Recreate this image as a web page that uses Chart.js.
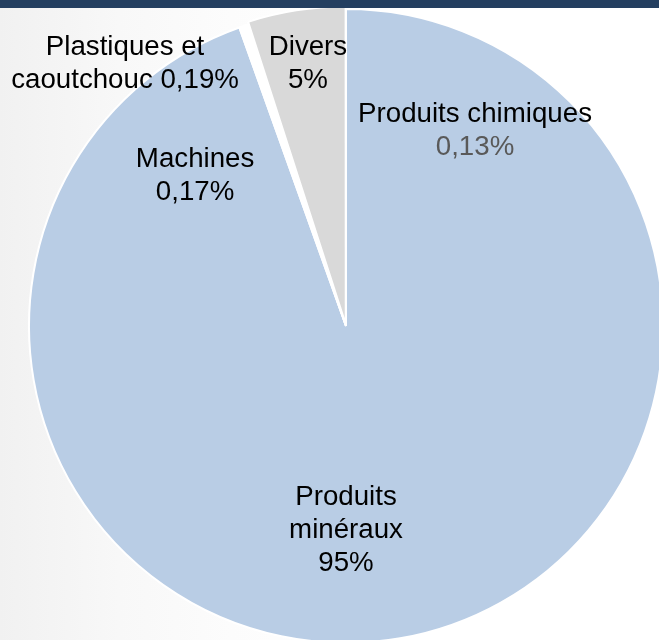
<!DOCTYPE html>
<html>
<head>
<meta charset="utf-8">
<script src="https://cdn.jsdelivr.net/npm/chart.js@4.4.0/dist/chart.umd.min.js"></script>
<style>
  html, body { margin: 0; padding: 0; width: 659px; height: 640px; overflow: hidden; }
  body { background: linear-gradient(to right, #f1f1f1 0%, #f8f8f8 18%, #fcfcfc 35%, #ffffff 55%, #ffffff 100%); position: relative; }
  #bar { position: absolute; left: 0; top: 0; width: 659px; height: 8px; background: #243f60; z-index: 2; }
  #wrap { position: absolute; left: 0; top: 0; width: 700px; height: 680px; }
</style>
</head>
<body>
<div id="bar"></div>
<div id="wrap"><canvas id="c" width="700" height="680"></canvas></div>
<script>
// ---- data ----
const categories = ['Produits minéraux', 'Produits chimiques', 'Machines', 'Plastiques et caoutchouc', 'Divers'];
const shares = [95, 0.13, 0.17, 0.19, 5];

// ---- style ----
const sliceColors = ['#b9cde5', '#ffffff', '#ffffff', '#ffffff', '#d9d9d9'];
const sliceOffsets = [0, 0, 0, 0, 6];
// label placement, relative to pie centre in units of the radius; line-break style
const labelLayout = [
  { dx: 0.0,   dy: 0.644,  mode: 'stack', valueColor: '#000000' },
  { dx: 0.407, dy: -0.614, mode: 'two',   valueColor: '#595959' },
  { dx: -0.476, dy: -0.473, mode: 'two',  valueColor: '#000000' },
  { dx: -0.697, dy: -0.826, mode: 'split', valueColor: '#000000' },
  { dx: -0.12, dy: -0.828, mode: 'two',   valueColor: '#000000' }
];

function fmt(v) { return String(v).replace('.', ',') + '%'; }

function buildLines(name, v, mode) {
  const val = fmt(v);
  const words = name.split(' ');
  if (mode === 'stack') return words.map(w => ({ t: w, val: false })).concat([{ t: val, val: true }]);
  if (mode === 'split') return [{ t: words.slice(0, 2).join(' '), val: false }, { t: words.slice(2).join(' ') + ' ' + val, val: false }];
  return [{ t: name, val: false }, { t: val, val: true }];
}

const labelPlugin = {
  id: 'pieLabels',
  afterDatasetsDraw(chart) {
    const meta = chart.getDatasetMeta(0);
    const ctx = chart.ctx;
    const arc0 = meta.data[0];
    const cx = arc0.x, cy = arc0.y, r = arc0.outerRadius;
    const fontSize = 27.7, lh = 33;
    ctx.save();
    ctx.font = fontSize + 'px "Liberation Sans", Arial, sans-serif';
    ctx.textAlign = 'center';
    ctx.textBaseline = 'middle';
    categories.forEach((name, i) => {
      const L = labelLayout[i];
      const lines = buildLines(name, shares[i], L.mode);
      const x = cx + L.dx * r;
      const y0 = cy + L.dy * r - (lines.length - 1) * lh / 2;
      lines.forEach((ln, k) => {
        ctx.fillStyle = ln.val ? L.valueColor : '#000000';
        ctx.fillText(ln.t, x, y0 + k * lh);
      });
    });
    ctx.restore();
  }
};

new Chart(document.getElementById('c'), {
  type: 'pie',
  data: {
    labels: categories,
    datasets: [{
      data: shares,
      backgroundColor: sliceColors,
      borderColor: '#ffffff',
      borderWidth: 2,
      offset: sliceOffsets,
      radius: 317
    }]
  },
  options: {
    responsive: false,
    animation: false,
    layout: { padding: { left: 0, top: 0, right: 8, bottom: 28 } },
    plugins: {
      legend: { display: false },
      tooltip: { enabled: false }
    }
  },
  plugins: [labelPlugin]
});
</script>
</body>
</html>
